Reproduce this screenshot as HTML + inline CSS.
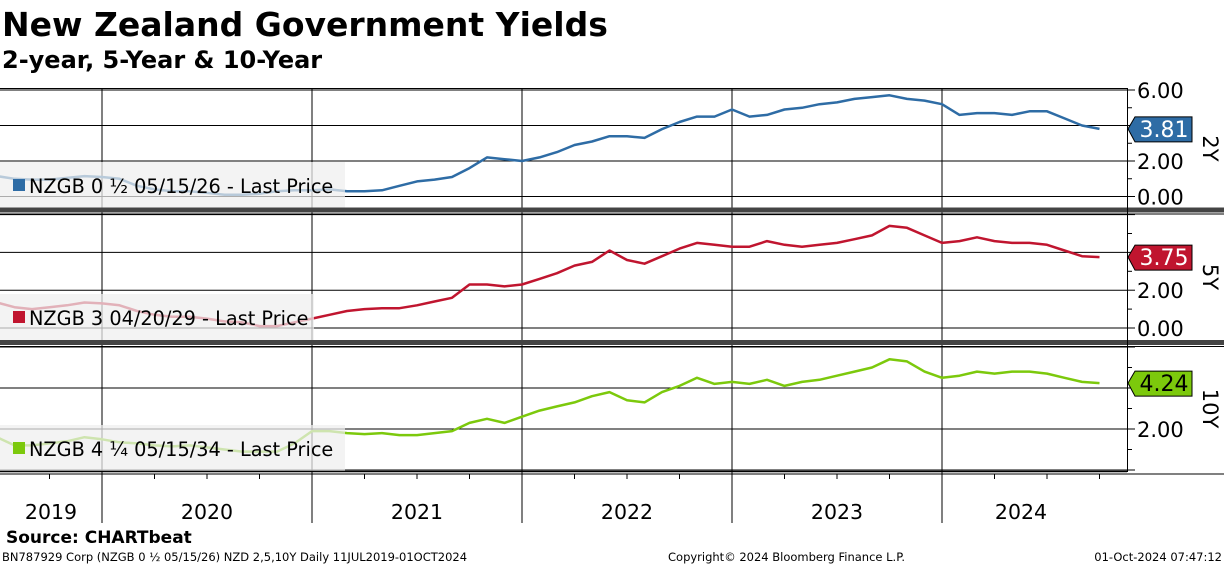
<!DOCTYPE html>
<html><head><meta charset="utf-8">
<style>
html,body{margin:0;padding:0;background:#fff;width:1224px;height:566px;overflow:hidden}
svg{display:block;font-family:"DejaVu Sans","Liberation Sans",sans-serif}
</style></head>
<body>
<svg id="chart" width="1224" height="566" viewBox="0 0 1224 566">
<text x="2" y="36" font-size="33" font-weight="bold" fill="#000">New Zealand Government Yields</text>
<text x="2" y="68" font-size="24" font-weight="bold" fill="#000">2-year, 5-Year &amp; 10-Year</text>
<g id="grid"></g>
<g id="series"></g>
<g id="legends"></g>
<g id="axes"></g>
<text x="6" y="543" font-size="17" font-weight="bold">Source: CHARTbeat</text>
<text x="2" y="561" font-size="11.5">BN787929 Corp (NZGB 0 ½ 05/15/26) NZD 2,5,10Y  Daily 11JUL2019-01OCT2024</text>
<text x="668" y="561" font-size="11.5">Copyright© 2024 Bloomberg Finance L.P.</text>
<text x="1222" y="561" font-size="11.5" text-anchor="end">01-Oct-2024 07:47:12</text>
</svg>
<script>
const years=["2019","2020","2021","2022","2023","2024"];
const yieldTicks=[0,2,4,6];
const y2=[1.15,1.0,0.95,0.95,1.05,1.15,1.1,1.0,0.6,0.4,0.3,0.3,0.2,0.1,0.1,0.15,0.3,0.35,0.35,0.4,0.3,0.3,0.35,0.6,0.85,0.95,1.1,1.6,2.2,2.1,2.0,2.2,2.5,2.9,3.1,3.4,3.4,3.3,3.8,4.2,4.5,4.5,4.9,4.5,4.6,4.9,5.0,5.2,5.3,5.5,5.6,5.7,5.5,5.4,5.2,4.6,4.7,4.7,4.6,4.8,4.8,4.4,4.0,3.81];
const y5=[1.35,1.1,1.0,1.1,1.2,1.35,1.3,1.2,0.9,0.7,0.6,0.6,0.5,0.35,0.3,0.1,0.1,0.3,0.5,0.7,0.9,1.0,1.05,1.05,1.2,1.4,1.6,2.3,2.3,2.2,2.3,2.6,2.9,3.3,3.5,4.1,3.6,3.4,3.8,4.2,4.5,4.4,4.3,4.3,4.6,4.4,4.3,4.4,4.5,4.7,4.9,5.4,5.3,4.9,4.5,4.6,4.8,4.6,4.5,4.5,4.4,4.1,3.8,3.75];
const y10=[1.6,1.2,1.2,1.3,1.4,1.6,1.5,1.35,1.3,1.2,1.15,1.2,1.1,1.0,0.9,0.9,0.9,1.3,1.9,1.9,1.8,1.75,1.8,1.7,1.7,1.8,1.9,2.3,2.5,2.3,2.6,2.9,3.1,3.3,3.6,3.8,3.4,3.3,3.8,4.1,4.5,4.2,4.3,4.2,4.4,4.1,4.3,4.4,4.6,4.8,5.0,5.4,5.3,4.8,4.5,4.6,4.8,4.7,4.8,4.8,4.7,4.5,4.3,4.24];
const lastLabels=["3.81","3.75","4.24"];

const NS="http://www.w3.org/2000/svg";
function mk(tag,attrs,parent){const e=document.createElementNS(NS,tag);for(const k in attrs)e.setAttribute(k,attrs[k]);parent.appendChild(e);return e;}
const X0=-3,MPX=17.5,RIGHT=1127;
const xs=i=>X0+i*MPX;
const panels=[
 {data:y2,zero:196.5,unit:17.75,top:88,bot:209,color:"#2e6ca5",legW:345,legTop:162,name:"NZGB 0 ½ 05/15/26 - Last Price",tag:"2Y",ticks:[0,2,6],id:"2y"},
 {data:y5,zero:328,unit:18.9,top:213,bot:341,color:"#c0152f",legW:314,legTop:294,name:"NZGB 3 04/20/29 - Last Price",tag:"5Y",ticks:[0,2],id:"5y"},
 {data:y10,zero:470,unit:20.5,top:346,bot:471,color:"#7cc90c",legW:345,legTop:425,name:"NZGB 4 ¼ 05/15/34 - Last Price",tag:"10Y",ticks:[2],id:"10y"}
];
const grid=document.getElementById('grid'),ser=document.getElementById('series'),leg=document.getElementById('legends'),ax=document.getElementById('axes');
mk('line',{x1:0,x2:RIGHT,y1:88.5,y2:88.5,stroke:"#000","stroke-width":1},grid);
for(let k=1;k<years.length;k++){const x=xs(6+12*(k-1));
 const l=mk('line',{x1:x,x2:x,y1:88,y2:523,stroke:"#000","stroke-width":1},grid);
 }
panels.forEach((p,pi)=>{
 const vy=v=>p.zero-v*p.unit;
 yieldTicks.forEach(t=>{const y=vy(t);if(y<p.top||y>p.bot)return;
  const g=mk('line',{x1:0,x2:RIGHT,y1:y,y2:y,stroke:"#000","stroke-width":1},grid);
  
  mk('line',{x1:RIGHT,x2:RIGHT+8,y1:y,y2:y,stroke:"#000"},ax);
  if(p.ticks.includes(t)){const tx=mk('text',{x:1137,y:y+8,"font-size":21,fill:"#000"},ax);tx.textContent=t.toFixed(2);
   }
 });
 for(let t=1;t<7;t+=2){const y=vy(t);if(y<p.top||y>p.bot)continue;mk('line',{x1:RIGHT,x2:RIGHT+5,y1:y,y2:y,stroke:"#000"},ax);}
 const pts=p.data.map((v,i)=>xs(i).toFixed(1)+","+vy(v).toFixed(1)).join(" ");
 const pl=mk('polyline',{points:pts,fill:"none",stroke:p.color,"stroke-width":2.5,"stroke-linejoin":"round"},ser);
 
 const lb=mk('rect',{x:0,y:p.legTop,width:p.legW,height:p.bot-p.legTop,fill:"#efefef","fill-opacity":0.72},leg);
 
 const sw=mk('rect',{x:13,y:p.legTop+17,width:12,height:12,fill:p.color},leg);
 
 const lt=mk('text',{x:29,y:p.legTop+31,"font-size":19.3,fill:"#000"},leg);lt.textContent=p.name;
 
 const last=p.data[p.data.length-1];const ly=Math.min(Math.max(vy(last),p.top+14),p.bot-14);
 const tagp=mk('path',{d:`M${RIGHT+1},${ly} L${RIGHT+8},${ly-12} L${RIGHT+65},${ly-12} L${RIGHT+65},${ly+13} L${RIGHT+8},${ly+13} Z`,fill:p.color,stroke:"#000","stroke-width":1},ax);
 
 const tt=mk('text',{x:RIGHT+37,y:ly+8,"font-size":22,"text-anchor":"middle",fill:pi==2?"#000":"#fff"},ax);tt.textContent=lastLabels[pi];
 
 const cy=(p.top+p.bot)/2;
 const pt=mk('text',{x:1203,y:cy,"font-size":21,"text-anchor":"middle",transform:`rotate(90 1203 ${cy})`,fill:"#000"},ax);pt.textContent=p.tag;
 
});
[210,342.5].forEach(y=>{mk('rect',{x:0,y:y-2.5,width:1224,height:5,fill:"#444"},ax);mk('line',{x1:0,x2:1224,y1:y+4,y2:y+4,stroke:"#000"},ax);});
mk('line',{x1:RIGHT+0.5,x2:RIGHT+0.5,y1:88,y2:472,stroke:"#000"},ax);
mk('line',{x1:0,x2:RIGHT,y1:471.5,y2:471.5,stroke:"#000","stroke-width":1.5},ax);
mk('line',{x1:0,x2:1224,y1:474,y2:474,stroke:"#000","stroke-width":1},ax);
for(let i=0;i<=63;i++){const m=(6+i)%12;if(m%3!==0||m===0)continue;mk('line',{x1:xs(i),x2:xs(i),y1:474,y2:479,stroke:"#000"},ax);}
years.forEach((yr,k)=>{const a=k==0?0:xs(6+12*(k-1)),b=Math.min(xs(6+12*k),1100);
 const t=mk('text',{x:(a+b)/2,y:519,"font-size":20.5,"text-anchor":"middle",fill:"#000"},ax);t.textContent=yr;
 });
</script>
</body></html>
